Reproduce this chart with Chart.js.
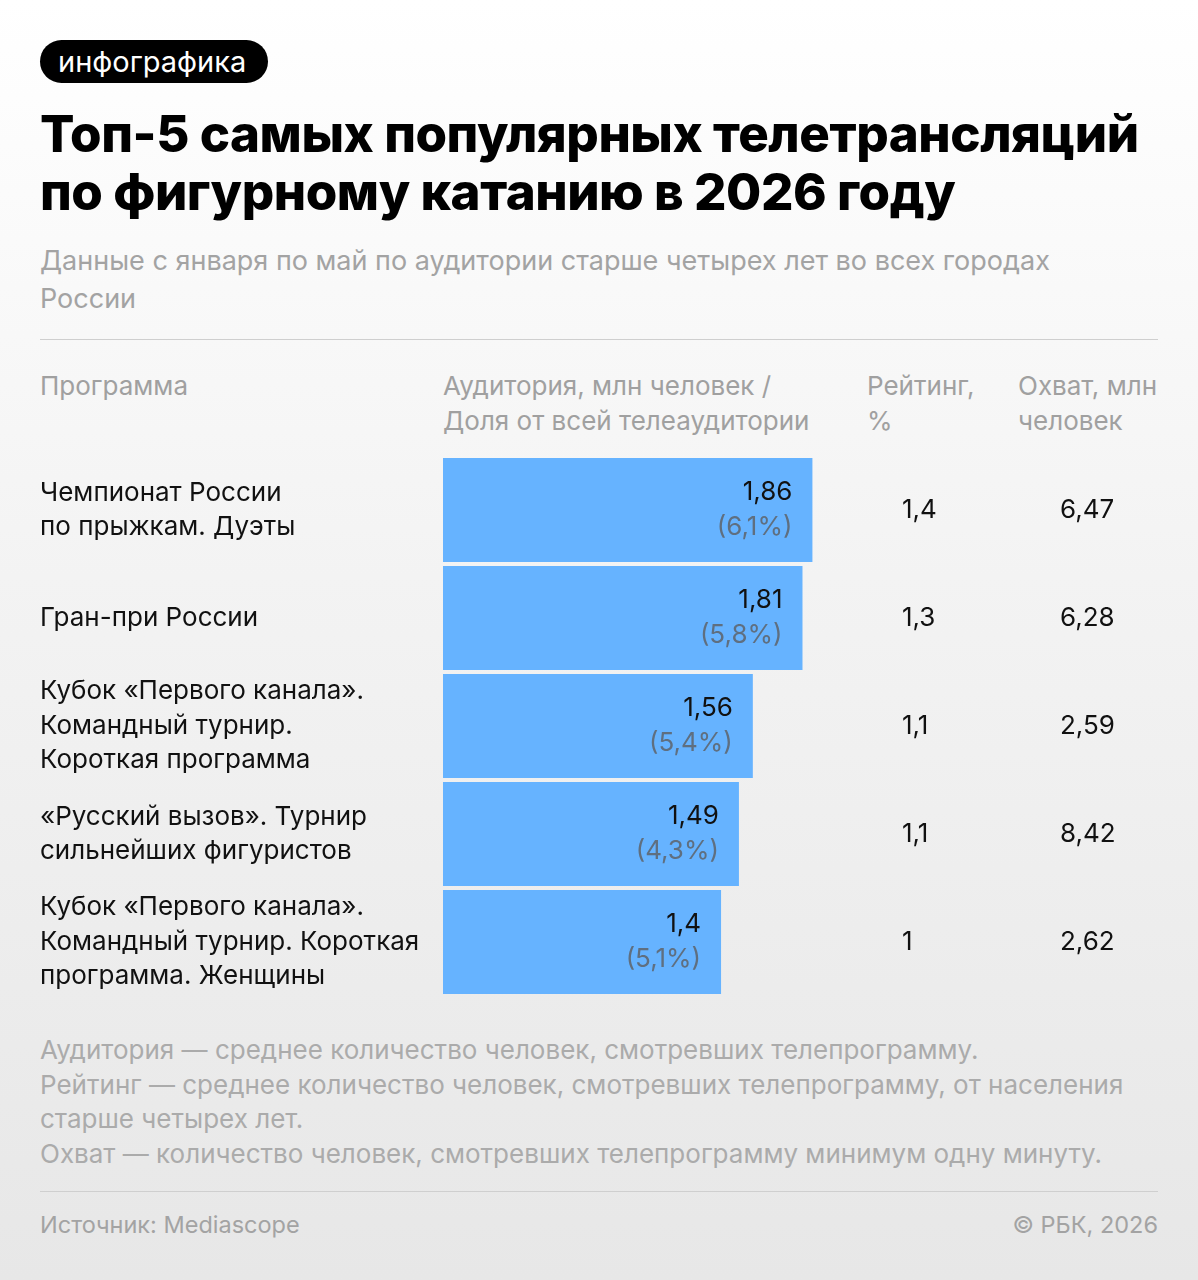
<!DOCTYPE html>
<html lang="ru">
<head>
<meta charset="utf-8">
<script src="https://cdn.jsdelivr.net/npm/chart.js@4.4.1/dist/chart.umd.min.js"></script>
<style>
  html, body { margin: 0; padding: 0; }
  body {
    width: 1198px; height: 1280px; position: relative; overflow: hidden;
    background: linear-gradient(180deg, #ffffff 0%, #f3f3f3 45%, #e7e7e7 100%);
    font-family: Inter, "Noto Sans", sans-serif;
  }
  .abs { position: absolute; }
  .pill {
    left: 40px; top: 40px; width: 228px; height: 43px; border-radius: 22px;
    background: #000; color: #fff; font-size: 29px; line-height: 43px;
    box-sizing: border-box; padding-left: 18px;
  }
  .title {
    left: 40px; top: 105px; font-size: 51px; font-weight: 800; line-height: 58px;
    color: #000; letter-spacing: -0.45px; white-space: nowrap;
  }
  .sub { left: 40px; top: 242px; font-size: 27px; line-height: 38px; color: #a3a3a3; }
  .rule { left: 40px; width: 1118px; height: 1px; background: #cfcfcf; }
  .head { top: 368px; font-size: 26px; line-height: 35px; color: #a0a0a0; }
  .notes { left: 40px; top: 1033px; font-size: 26px; line-height: 34.5px; color: #ababab; }
  .foot { top: 1209px; font-size: 23.5px; line-height: 32px; color: #a3a3a3; }
  #chartBox { position: absolute; left: 0; top: 456px; width: 1198px; height: 540px; }
</style>
</head>
<body>
<div class="abs pill">инфографика</div>
<div class="abs title">Топ-5 самых популярных телетрансляций<br>по фигурному катанию в 2026 году</div>
<div class="abs sub">Данные с января по май по аудитории старше четырех лет во всех городах<br>России</div>
<div class="abs rule" style="top:339px"></div>

<div class="abs head" style="left:40px">Программа</div>
<div class="abs head" style="left:443px">Аудитория, млн человек /<br>Доля от всей телеаудитории</div>
<div class="abs head" style="left:867px">Рейтинг,<br>%</div>
<div class="abs head" style="left:1018px">Охват, млн<br>человек</div>

<div id="chartBox"><canvas id="chart"></canvas></div>

<div class="abs notes">Аудитория — среднее количество человек, смотревших телепрограмму.<br>Рейтинг — среднее количество человек, смотревших телепрограмму, от населения<br>старше четырех лет.<br>Охват — количество человек, смотревших телепрограмму минимум одну минуту.</div>
<div class="abs rule" style="top:1191px"></div>
<div class="abs foot" style="left:40px">Источник: Mediascope</div>
<div class="abs foot" style="right:40px">© РБК, 2026</div>

<script>
const programs = [
  ["Чемпионат России", "по прыжкам. Дуэты"],
  ["Гран-при России"],
  ["Кубок «Первого канала».", "Командный турнир.", "Короткая программа"],
  ["«Русский вызов». Турнир", "сильнейших фигуристов"],
  ["Кубок «Первого канала».", "Командный турнир. Короткая", "программа. Женщины"]
];
const audience = [1.86, 1.81, 1.56, 1.49, 1.4];
const share = [6.1, 5.8, 5.4, 4.3, 5.1];
const rating = [1.4, 1.3, 1.1, 1.1, 1];
const reach = [6.47, 6.28, 2.59, 8.42, 2.62];

const fmt = (v) => String(v).replace(".", ",");

// подписи строк, значения на столбцах и колонки справа
const tableText = {
  id: "tableText",
  afterDatasetsDraw(chart) {
    const ctx = chart.ctx;
    const y = chart.scales.y;
    const meta = chart.getDatasetMeta(0);
    ctx.save();
    ctx.textBaseline = "middle";
    ctx.font = "26px Inter, 'Noto Sans', sans-serif";
    programs.forEach((lines, i) => {
      const cy = y.getPixelForValue(i);
      const lh = 34.5;
      const top = cy - (lines.length - 1) * lh / 2;
      ctx.fillStyle = "#111";
      ctx.textAlign = "left";
      lines.forEach((t, k) => ctx.fillText(t, 40, top + k * lh));

      const bar = meta.data[i];
      ctx.textAlign = "right";
      ctx.fillStyle = "#111";
      ctx.fillText(fmt(audience[i]), bar.x - 20, cy - 18);
      ctx.fillStyle = "#5f6f80";
      ctx.fillText("(" + fmt(share[i]) + "%)", bar.x - 20, cy + 17);

      ctx.textAlign = "left";
      ctx.fillStyle = "#111";
      ctx.fillText(fmt(rating[i]), 902, cy);
      ctx.fillText(fmt(reach[i]), 1060, cy);
    });
    ctx.restore();
  }
};

new Chart(document.getElementById("chart"), {
  type: "bar",
  data: {
    labels: programs.map((p) => p.join(" ")),
    datasets: [{
      data: audience,
      backgroundColor: "#66b3ff",
      borderWidth: 0,
      categoryPercentage: 1,
      barPercentage: 104 / 108
    }]
  },
  options: {
    indexAxis: "y",
    responsive: true,
    maintainAspectRatio: false,
    animation: false,
    layout: { padding: { left: 443, right: 40, top: 0, bottom: 0 } },
    plugins: { legend: { display: false }, tooltip: { enabled: false } },
    scales: {
      x: { display: false, min: 0, max: 3.6 },
      y: { display: false }
    }
  },
  plugins: [tableText]
});
</script>
</body>
</html>
